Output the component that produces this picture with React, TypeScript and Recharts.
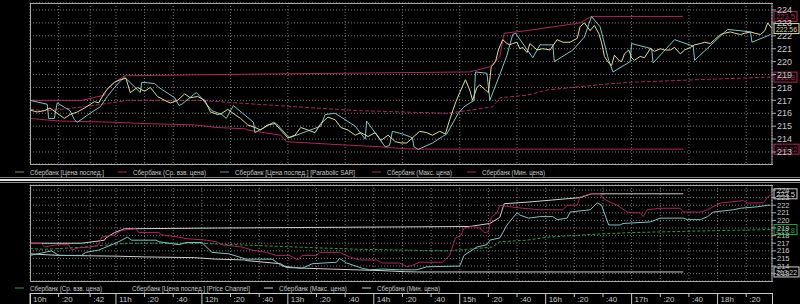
import { LineChart, Line, XAxis, YAxis, CartesianGrid, ReferenceLine } from 'recharts'

// minutes from 10:00 -> value
const timeTicks = [0, 20, 42, 60, 80, 100, 120, 140, 160, 180, 200, 220, 240, 260, 280, 300, 320, 340, 360, 380, 400, 420, 440, 460, 480, 500]
const timeLabels = ['10h', ':20', ':42', '11h', ':20', ':40', '12h', ':20', ':40', '13h', ':20', ':40', '14h', ':20', ':40', '15h', ':20', ':40', '16h', ':20', ':40', '17h', ':20', ':40', '18h', ':20']
const priceTicks = [213, 214, 215, 216, 217, 218, 219, 220, 221, 222, 223, 224]

const lastPrice: [number, number][] = [
  [0, 216.25], [5, 216.1], [10, 216.2], [14, 216.4], [19, 216.0], [24, 215.6], [28, 215.9], [33, 216.1], [38, 216.4], [45, 216.9],
  [48, 216.8], [52, 217.6], [55, 218.0], [59, 218.4], [63, 218.6], [67, 218.7], [70, 217.6], [75, 218.0], [80, 217.7], [84, 218.0],
  [89, 217.3], [94, 217.0], [98, 216.8], [103, 217.0], [108, 217.5], [112, 217.2], [117, 217.3], [122, 217.0], [126, 216.1], [131, 215.9],
  [134, 216.0], [138, 216.3], [143, 215.9], [147, 215.6], [152, 215.1], [157, 214.9], [161, 214.7], [166, 215.1], [171, 215.2], [175, 214.7],
  [180, 214.1], [185, 214.3], [189, 214.9], [194, 214.7], [199, 214.5], [203, 215.2], [208, 215.7], [213, 215.5], [217, 214.9], [222, 214.7],
  [227, 214.3], [231, 214.5], [236, 214.2], [241, 214.5], [245, 213.9], [250, 214.3], [255, 213.8], [259, 213.7], [263, 213.7], [267, 214.1],
  [272, 214.6], [277, 214.5], [281, 214.3], [286, 214.6], [290, 214.4], [293, 215.5], [297, 216.8], [300, 217.6], [304, 218.6], [307, 217.8],
  [309, 217.0], [312, 218.0], [314, 218.2], [318, 217.8], [320, 217.6], [322, 219.6], [325, 220.0], [327, 220.9], [330, 221.7], [333, 221.4],
  [335, 221.3], [337, 221.4], [340, 221.5], [342, 221.0], [344, 221.1], [347, 220.7], [349, 221.4], [354, 220.9], [358, 221.0], [363, 220.9],
  [368, 221.7], [372, 221.5], [377, 221.5], [382, 221.8], [384, 222.7], [387, 223.0], [391, 222.4], [394, 222.8], [397, 222.2], [399, 221.5],
  [401, 220.4], [404, 219.9], [406, 219.7], [408, 220.5], [411, 220.1], [413, 220.0], [415, 220.6], [418, 220.9], [420, 220.3], [422, 220.1],
  [426, 220.4], [429, 220.3], [433, 221.0], [436, 220.8], [440, 221.0], [443, 220.9], [447, 220.9], [450, 221.1], [454, 220.6], [457, 220.9],
  [461, 221.1], [464, 221.3], [468, 221.4], [471, 221.5], [475, 221.4], [478, 221.7], [482, 222.1], [485, 222.2], [489, 222.3], [492, 222.2],
  [496, 222.1], [499, 222.2], [503, 222.3], [506, 222.2], [510, 222.1], [513, 222.4], [515, 223.0], [518, 222.56],
]

const parabolicSar: [number, number][] = [
  [0, 217.0], [12, 216.7], [13, 215.6], [17, 215.6], [19, 216.8], [28, 216.2], [31, 215.5], [33, 215.3], [42, 216.0], [49, 216.5],
  [54, 217.3], [59, 218.0], [64, 218.6], [66, 218.8], [77, 217.6], [78, 218.4], [87, 218.3], [90, 218.0], [101, 217.2], [104, 216.6],
  [106, 216.7], [116, 217.6], [118, 217.4], [127, 216.2], [134, 215.9], [137, 215.6], [142, 216.6], [156, 215.3], [157, 214.5], [170, 215.3],
  [172, 215.2], [181, 214.1], [203, 215.0], [206, 215.9], [213, 216.0], [227, 215.0], [234, 214.0], [235, 215.4], [248, 213.4], [251, 213.5],
  [253, 214.6], [260, 214.4], [267, 214.1], [268, 213.4], [271, 213.2], [281, 213.7], [288, 214.2], [291, 214.4], [299, 216.0], [303, 216.5],
  [310, 217.0], [311, 219.2], [319, 219.1], [321, 217.0], [328, 219.0], [333, 220.5], [337, 222.1], [339, 222.2], [351, 220.3], [356, 221.3],
  [365, 221.3], [366, 220.0], [379, 220.9], [387, 221.9], [392, 223.5], [398, 222.7], [404, 220.1], [407, 219.2], [419, 220.0], [420, 221.4],
  [434, 221.0], [435, 219.9], [450, 221.7], [463, 221.2], [464, 220.1], [487, 222.5], [503, 222.3], [504, 221.5], [517, 222.1],
]

const vwap: [number, number][] = [
  [0, 216.3], [10, 216.2], [21, 216.3], [38, 216.5], [56, 216.8], [68, 217.0], [118, 217.0], [158, 216.7], [200, 216.4], [230, 216.2],
  [260, 216.1], [291, 216.0], [305, 216.2], [323, 216.5], [328, 217.2], [347, 217.4], [361, 217.8], [396, 218.2], [419, 218.4], [466, 218.6],
  [517, 218.8],
]

const maxPrice: [number, number][] = [
  [0, 217.0], [36, 217.0], [52, 217.4], [53, 217.7], [59, 218.4], [66, 218.9], [131, 219.0], [307, 219.2], [321, 219.6], [328, 220.4],
  [331, 222.2], [347, 222.4], [384, 223.0], [392, 223.5], [456, 223.5],
]

const minPrice: [number, number][] = [
  [0, 215.6], [20, 215.4], [60, 215.3], [80, 215.2], [115, 215.1], [130, 214.9], [150, 214.8], [152, 214.7], [175, 214.3], [179, 213.8],
  [210, 213.6], [245, 213.4], [262, 213.25], [270, 213.22], [456, 213.22],
]

const channelHigh: [number, number][] = [
  [0, 217.0], [8, 217.0], [10, 216.5], [19, 216.8], [27, 216.8], [29, 216.1], [34, 216.4], [43, 216.5], [48, 216.8], [50, 217.8],
  [59, 218.1], [64, 218.7], [74, 218.9], [76, 218.4], [90, 218.4], [92, 218.1], [104, 217.8], [109, 217.6], [123, 217.4], [130, 217.2],
  [134, 216.8], [148, 216.5], [155, 216.1], [165, 215.8], [172, 215.4], [181, 215.4], [187, 214.8], [190, 215.4], [200, 215.4], [202, 215.8],
  [216, 215.8], [223, 215.2], [230, 214.8], [242, 214.8], [246, 214.4], [258, 214.4], [263, 213.9], [267, 214.1], [272, 214.5], [288, 214.5],
  [293, 215.4], [297, 217.7], [301, 218.1], [303, 219.0], [309, 219.2], [314, 219.0], [317, 218.4], [320, 218.5], [322, 220.4], [326, 221.0],
  [328, 222.0], [335, 221.8], [344, 221.6], [356, 221.4], [372, 221.4], [375, 222.0], [382, 222.0], [384, 223.1], [391, 223.5], [398, 223.5],
  [400, 222.9], [405, 222.4], [410, 222.0], [417, 221.1], [421, 221.0], [426, 221.0], [428, 220.5], [431, 221.4], [440, 221.6], [454, 221.6],
  [456, 221.1], [468, 221.1], [473, 221.4], [482, 222.3], [498, 222.6], [501, 222.3], [512, 222.3], [515, 223.1], [517, 223.3],
]

const channelLow: [number, number][] = [
  [0, 215.4], [8, 215.7], [15, 216.0], [20, 215.4], [36, 215.4], [39, 215.8], [48, 216.1], [57, 216.8], [62, 217.2], [68, 217.8],
  [71, 217.4], [88, 217.4], [90, 217.2], [104, 216.8], [109, 217.1], [120, 217.1], [127, 215.8], [139, 215.6], [151, 214.9], [169, 214.9],
  [176, 214.0], [190, 213.7], [197, 214.3], [214, 214.5], [216, 215.0], [221, 214.4], [232, 213.7], [237, 213.5], [246, 213.6], [258, 213.5],
  [270, 213.5], [277, 213.9], [300, 214.0], [303, 215.4], [312, 216.5], [319, 216.8], [321, 217.4], [328, 217.7], [333, 219.4], [340, 221.0],
  [342, 220.7], [348, 220.3], [356, 220.5], [365, 220.5], [368, 220.1], [375, 220.3], [377, 221.1], [391, 221.4], [396, 222.3], [399, 222.0],
  [404, 219.4], [412, 219.4], [414, 219.6], [433, 219.8], [440, 220.3], [456, 220.3], [459, 220.1], [468, 220.1], [473, 220.5], [477, 221.1],
  [491, 221.4], [496, 221.6], [508, 221.8], [515, 222.0], [517, 222.0],
]

const rows = (pts: [number, number][]) => pts.map(([t, v]) => ({ t, v }))

const PRICE = '#dcdca0'
const SAR = '#80c4c4'
const CRIMSON = '#b0245c'
const GREEN = '#24a048'
const WHITE = '#d0d0d0'
const GRID = '#7a7a7a'
const FRAME = '#a8a8a8'
const TEXT = '#c8c8c8'
const font = 'Liberation Sans, Arial, sans-serif'

function ValueBox({ viewBox, text, color, w = 23 }: any) {
  if (!viewBox) return null
  const x = viewBox.x + viewBox.width + 2
  const y = viewBox.y
  return (
    <g>
      <rect x={x} y={y - 5} width={w} height={10} fill="#000" stroke={color} />
      <text x={x + 2} y={y + 3} fontSize={8} fill={color} fontFamily={font} textLength={w - 4} lengthAdjust="spacingAndGlyphs">{text}</text>
    </g>
  )
}

function TimeTick({ x, y, payload }: any) {
  const label = timeLabels[timeTicks.indexOf(payload.value)] ?? ''
  const major = label.endsWith('h')
  const top = y + 12
  return (
    <g>
      <line x1={x} x2={x} y1={top} y2={major ? top + 11 : top + 4} stroke={TEXT} />
      <text x={x + 3} y={top + 9} fontSize={8} fill={TEXT} fontFamily={font}>{label}</text>
    </g>
  )
}

type Item = { text: string; x: number; len: number; color?: string }
const topLegend: Item[] = [
  { text: 'Сбербанк [Цена послед.]', x: 30, len: 74, color: '#8c8c5c' },
  { text: 'Сбербанк (Ср. взв. цена)', x: 133, len: 73, color: CRIMSON },
  { text: 'Сбербанк [Цена послед.] [Parabolic SAR]', x: 235, len: 120, color: '#5f9a9a' },
  { text: 'Сбербанк (Макс. цена)', x: 387, len: 65, color: CRIMSON },
  { text: 'Сбербанк (Мин. цена)', x: 482, len: 63, color: CRIMSON },
]
const bottomLegend: Item[] = [
  { text: 'Сбербанк (Ср. взв. цена)', x: 30, len: 72, color: GREEN },
  { text: 'Сбербанк [Цена послед.] [Price Channel]', x: 132, len: 118 },
  { text: 'Сбербанк (Макс. цена)', x: 279, len: 68, color: WHITE },
  { text: 'Сбербанк (Мин. цена)', x: 377, len: 63, color: WHITE },
]

function Legend({ items, top }: { items: Item[]; top: number }) {
  return (
    <svg width={800} height={12} style={{ position: 'absolute', left: 0, top }}>
      {items.map((it, i) => (
        <g key={i}>
          {it.color && <line x1={it.x - 15} x2={it.x - 6} y1={6} y2={6} stroke={it.color} strokeWidth={1} />}
          <text x={it.x} y={9} fontSize={8} fill={TEXT} fontFamily={font} textLength={it.len} lengthAdjust="spacingAndGlyphs">{it.text}</text>
        </g>
      ))}
    </svg>
  )
}

const abs = (l: number, t: number, w: number, h: number, extra: React.CSSProperties = {}): React.CSSProperties => ({
  position: 'absolute', left: l, top: t, width: w, height: h, boxSizing: 'border-box', pointerEvents: 'none', ...extra,
})

export default function App() {
  const yTick = (size: number) => ({ fill: TEXT, fontSize: size, fontFamily: font })
  return (
    <div style={{ position: 'fixed', left: 0, top: 0, width: 800, height: 304, background: '#000', overflow: 'hidden' }}>
      <div style={abs(0, 0, 800, 166)}>
        <LineChart width={800} height={166} margin={{ top: 3, right: 0, bottom: 2, left: 30 }}>
          <CartesianGrid stroke={GRID} strokeDasharray="1 2" />
          <XAxis type="number" dataKey="t" domain={[0, 518]} ticks={timeTicks} hide allowDataOverflow />
          <YAxis orientation="right" domain={[212.07, 224.54]} ticks={priceTicks} interval={0} width={28} tick={yTick(9)}
            stroke={FRAME} tickSize={4} tickMargin={1} allowDataOverflow />
          <Line data={rows(minPrice)} dataKey="v" stroke={CRIMSON} dot={false} isAnimationActive={false} />
          <Line data={rows(maxPrice)} dataKey="v" stroke={CRIMSON} dot={false} isAnimationActive={false} />
          <Line data={rows(vwap)} dataKey="v" stroke={CRIMSON} strokeDasharray="4 2" dot={false} isAnimationActive={false} />
          <Line data={rows(parabolicSar)} dataKey="v" stroke={SAR} dot={false} isAnimationActive={false} />
          <Line data={rows(lastPrice)} dataKey="v" stroke={PRICE} dot={false} isAnimationActive={false} />
          <ReferenceLine y={223.5} stroke="none" ifOverflow="visible" label={<ValueBox text="223.5" color={CRIMSON} />} />
          <ReferenceLine y={222.56} stroke="none" ifOverflow="visible" label={<ValueBox text="222.56" color={PRICE} w={25} />} />
          <ReferenceLine y={218.8} stroke="none" ifOverflow="visible" label={<ValueBox text="218.8" color={CRIMSON} />} />
          <ReferenceLine y={213.22} stroke="none" ifOverflow="visible" label={<ValueBox text="213.22" color={CRIMSON} w={25} />} />
        </LineChart>
      </div>
      <div style={abs(30, 3, 743, 162, { borderTop: `1px solid ${FRAME}`, borderLeft: `1px solid ${FRAME}`, borderBottom: `1px solid ${FRAME}` })} />
      <Legend items={topLegend} top={166} />

      <div style={abs(0, 177, 800, 1, { background: '#808080' })} />
      <div style={abs(0, 179, 800, 2, { background: '#e4e4e4' })} />
      <div style={abs(0, 182, 800, 1, { background: '#909090' })} />

      <div style={abs(0, 184, 800, 120)}>
        <LineChart width={800} height={120} margin={{ top: 1, right: 0, bottom: 0, left: 30 }}>
          <CartesianGrid stroke={GRID} strokeDasharray="1 2" />
          <XAxis type="number" dataKey="t" domain={[0, 518]} ticks={timeTicks} interval={0} height={23} axisLine={false}
            tickLine={false} tickSize={0} tickMargin={0} tick={<TimeTick />} allowDataOverflow />
          <YAxis orientation="right" domain={[212.03, 224.66]} ticks={priceTicks} interval={0} width={28} tick={yTick(7.5)}
            stroke={FRAME} tickSize={4} tickMargin={1} allowDataOverflow />
          <Line data={rows(maxPrice)} dataKey="v" stroke={WHITE} dot={false} isAnimationActive={false} />
          <Line data={rows(minPrice)} dataKey="v" stroke={WHITE} dot={false} isAnimationActive={false} />
          <Line data={rows(vwap)} dataKey="v" stroke={GREEN} strokeDasharray="3 2" dot={false} isAnimationActive={false} />
          <Line data={rows(channelLow)} dataKey="v" stroke={SAR} dot={false} isAnimationActive={false} />
          <Line data={rows(channelHigh)} dataKey="v" stroke={CRIMSON} dot={false} isAnimationActive={false} />
          <ReferenceLine y={223.5} stroke="none" ifOverflow="visible" label={<ValueBox text="223.5" color={WHITE} />} />
          <ReferenceLine y={218.8} stroke="none" ifOverflow="visible" label={<ValueBox text="218.8" color={GREEN} />} />
          <ReferenceLine y={213.22} stroke="none" ifOverflow="visible" label={<ValueBox text="213.22" color={WHITE} w={25} />} />
        </LineChart>
      </div>
      <div style={abs(30, 185, 743, 97, { borderTop: `1px solid ${FRAME}`, borderLeft: `1px solid ${FRAME}`, borderBottom: `1px solid ${FRAME}` })} />
      <Legend items={bottomLegend} top={282} />
      <div style={abs(30, 293, 743, 12, { border: `1px solid ${TEXT}` })} />
    </div>
  )
}
